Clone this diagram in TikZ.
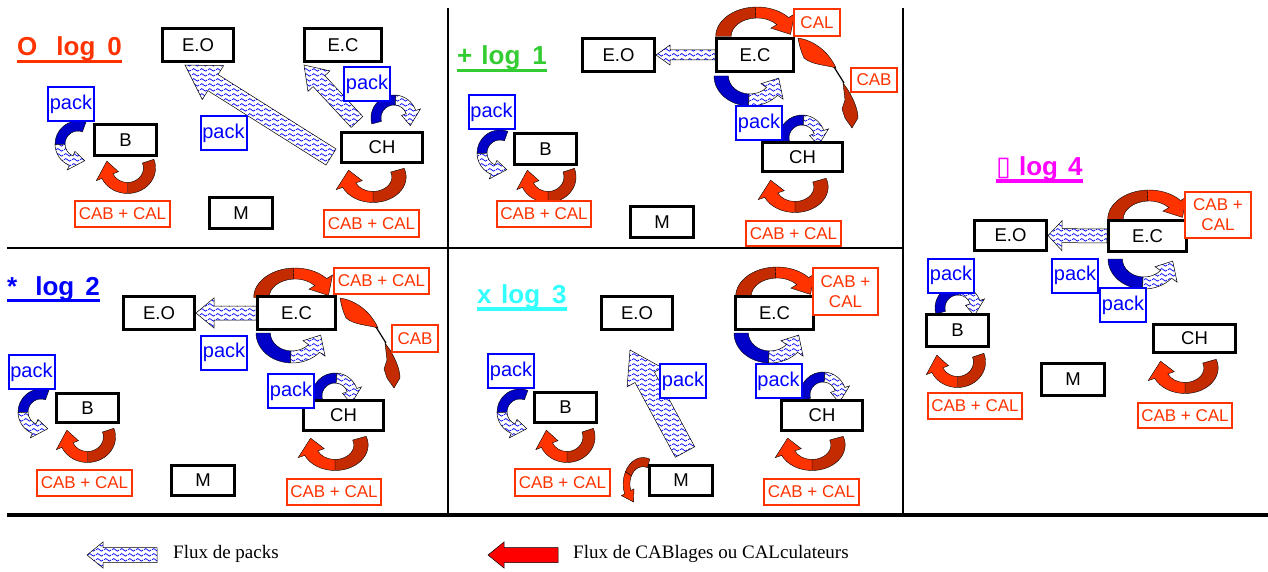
\documentclass[tikz,border=0pt]{standalone}
\usepackage{fontspec}
\setmainfont{Liberation Sans}
\newfontfamily\legendfont{Liberation Serif}
\newfontfamily\symfont{DejaVu Sans}
\usetikzlibrary{calc,patterns}

\definecolor{cabred}{HTML}{FF3300}
\definecolor{cabdark}{HTML}{C42B00}
\definecolor{packblue}{HTML}{0000FF}
\definecolor{loopblue}{HTML}{0000C8}
\definecolor{logzero}{HTML}{FF3300}
\definecolor{logone}{HTML}{33CC33}
\definecolor{logtwo}{HTML}{0000FF}
\definecolor{logthree}{HTML}{33FFFF}
\definecolor{logfour}{HTML}{FF00FF}

\pgfdeclarelayer{back}
\pgfsetlayers{back,main}

% wavy fill used for the flow of packs
\pgfdeclarepatternformonly{waves}{\pgfpointorigin}{\pgfqpoint{8pt}{5pt}}{\pgfqpoint{8pt}{5pt}}{%
  \pgfsetlinewidth{0.8pt}%
  \pgfpathmoveto{\pgfqpoint{0pt}{2.5pt}}%
  \pgfpathcurveto{\pgfqpoint{1.33pt}{4.5pt}}{\pgfqpoint{2.67pt}{4.5pt}}{\pgfqpoint{4pt}{2.5pt}}%
  \pgfpathcurveto{\pgfqpoint{5.33pt}{0.5pt}}{\pgfqpoint{6.67pt}{0.5pt}}{\pgfqpoint{8pt}{2.5pt}}%
  \pgfusepath{stroke}}

% curved band arrow: start angle, end angle, radius, half width, first style, second style
\newcommand\bendarrow[6]{%
  \pgfmathsetmacro\bendM{#1+0.5*(#2-#1)}%
  \pgfmathsetmacro\bendH{#1+0.8*(#2-#1)}%
  \pgfmathsetmacro\bendOut{#3+#4}%
  \pgfmathsetmacro\bendIn{#3-#4}%
  \pgfmathsetmacro\headOut{#3+2*#4}%
  \pgfmathsetmacro\headIn{#3-2*#4}%
  \path[#5] (#1:\bendOut) arc[start angle=#1, end angle=\bendM, radius=\bendOut]
     -- (\bendM:\bendIn) arc[start angle=\bendM, end angle=#1, radius=\bendIn] -- cycle;
  \path[#6] (\bendM:\bendOut) arc[start angle=\bendM, end angle=\bendH, radius=\bendOut]
     -- (\bendH:\headOut) -- (#2:#3) -- (\bendH:\headIn) -- (\bendH:\bendIn)
     arc[start angle=\bendH, end angle=\bendM, radius=\bendIn] -- cycle;
}

% straight block arrow: style, tail, tip, shaft half width, head half width, head length
\newcommand\flatarrow[6]{%
  \coordinate (fa-h) at ($(#3)!#6!(#2)$);
  \path[#1] ($(#2)!#4!90:(#3)$) -- ($(fa-h)!#4!90:(#3)$) -- ($(fa-h)!#5!90:(#3)$)
     -- (#3) -- ($(fa-h)!#5!-90:(#3)$) -- ($(fa-h)!#4!-90:(#3)$)
     -- ($(#2)!#4!-90:(#3)$) -- cycle;
}

\tikzset{
  unitbox/.style={draw=black, line width=3pt, fill=white, inner sep=0pt,
    font=\fontsize{18.5}{18.5}\selectfont},
  sz/.style 2 args={minimum width=#1pt, minimum height=#2pt},
  packtag/.style={draw=packblue, text=packblue, line width=2pt, fill=white, inner sep=0pt,
    minimum width=46pt, minimum height=34pt, font=\fontsize{20}{20}\selectfont},
  cabtag/.style={draw=cabred, text=cabred, line width=2pt, fill=white, inner sep=0pt,
    align=center, font=\fontsize{17}{20}\selectfont},
  title/.style={text=#1, font=\bfseries\fontsize{26}{26}\selectfont, inner sep=0pt, anchor=base west},
  uline/.style={line width=3.5pt, draw=#1},
  frame/.style={line width=2.5pt},
  legendtext/.style={font=\legendfont\fontsize{19}{19}\selectfont, inner sep=0pt, anchor=base west},
  packsolid/.style={fill=loopblue, draw=black, line width=0.4pt},
  packfill/.style={preaction={fill=white}, pattern=waves, pattern color=packblue,
    draw=black, line width=0.5pt},
  cabdarkfill/.style={fill=cabdark, draw=black, line width=0.4pt},
  cablightfill/.style={fill=cabred, draw=black, line width=0.4pt},
  legendred/.style={fill=red, draw=black, line width=0.5pt},
  pics/packloop/.style n args={4}{code={\bendarrow{#1}{#2}{#3}{#4}{packsolid}{packfill}}},
  pics/cabloop/.style n args={4}{code={\bendarrow{#1}{#2}{#3}{#4}{cabdarkfill}{cablightfill}}},
  pics/cabtwist/.style={code={
    \path[cablightfill] (0,0) .. controls (14,2) and (30,12) .. (38,30)
       .. controls (28,27) and (14,27) .. (6,20) .. controls (3,14) and (1,6) .. (0,0) -- cycle;
    \draw[line width=1.2pt] (36,29) -- (46,45);
    \path[cabdarkfill] (45,45) -- (50,52) .. controls (56,62) and (60,72) .. (60,80)
       -- (54,90) -- (47,80) -- (44,71) -- (47,62) -- cycle;
  }},
}

\begin{document}
\begin{tikzpicture}[x=1pt, y=-1pt]
\useasboundingbox (0,0) rectangle (1268,572);

% ---------- frame ----------
\draw[frame] (448,8) -- (448,515);
\draw[frame] (903,8) -- (903,515);
\draw[frame] (7,248) -- (903,248);
\draw[line width=4pt] (7,515) -- (1268,515);

% ---------- log 0 ----------
\node[title=logzero] (t0) at (17,56) {O\hspace{19pt}log\hspace{12pt}0};
\draw[uline=logzero] (t0.south west) -- (t0.south east);
\node[unitbox, sz={71}{33}] (eo0) at (198,45) {E.O};
\node[unitbox, sz={77}{33}] (ec0) at (343,45) {E.C};
\node[unitbox, sz={62}{31}] (b0) at (125.5,140) {B};
\node[unitbox, sz={81}{30}] (ch0) at (382,147.5) {CH};
\node[unitbox, sz={63}{31}] (m0) at (241,213) {M};
\node[packtag] (pk0a) at (71,104) {pack};
\node[packtag] (pk0b) at (223.5,133) {pack};
\node[packtag] (pk0c) at (367,84.5) {pack};
\node[cabtag, sz={95}{26}] (cc0a) at (122.5,214) {CAB + CAL};
\node[cabtag, sz={95}{27}] (cc0b) at (371.5,223.5) {CAB + CAL};

% ---------- log 1 ----------
\node[title=logone] (t1) at (457,65) {+\hspace{9pt}log\hspace{12pt}1};
\draw[uline=logone] (t1.south west) -- (t1.south east);
\node[unitbox, sz={72}{33}] (eo1) at (618.5,55) {E.O};
\node[unitbox, sz={77}{33}] (ec1) at (755,55) {E.C};
\node[unitbox, sz={62}{31}] (b1) at (545.5,149) {B};
\node[unitbox, sz={80}{29}] (ch1) at (802.5,157) {CH};
\node[unitbox, sz={63}{31}] (m1) at (662,222) {M};
\node[packtag] (pk1a) at (491.5,112.5) {pack};
\node[packtag] (pk1b) at (759,123) {pack};
\node[cabtag, sz={46}{27}] (cal1) at (817,22.5) {CAL};
\node[cabtag, sz={46}{24}] (cab1) at (874,80) {CAB};
\node[cabtag, sz={94}{26}] (cc1a) at (544,214) {CAB + CAL};
\node[cabtag, sz={95}{25}] (cc1b) at (793.5,233.5) {CAB + CAL};

% ---------- log 2 ----------
\node[title=logtwo] (t2) at (7,295) {*\hspace{18pt}log\hspace{11pt}2};
\draw[uline=logtwo] (t2.south west) -- (t2.south east);
\node[unitbox, sz={71}{33}] (eo2) at (159,313) {E.O};
\node[unitbox, sz={78}{33}] (ec2) at (296.5,313) {E.C};
\node[unitbox, sz={62}{29}] (b2) at (87.5,408) {B};
\node[unitbox, sz={80}{30}] (ch2) at (343.5,415.5) {CH};
\node[unitbox, sz={63}{30}] (m2) at (203,480.5) {M};
\node[packtag] (pk2a) at (31.5,372) {pack};
\node[packtag] (pk2b) at (224,352.5) {pack};
\node[packtag] (pk2c) at (291,391) {pack};
\node[cabtag, sz={95}{26}] (cc2t) at (381.5,281) {CAB + CAL};
\node[cabtag, sz={46}{27}] (cab2) at (415,338.5) {CAB};
\node[cabtag, sz={95}{26}] (cc2a) at (84.5,483) {CAB + CAL};
\node[cabtag, sz={94}{26}] (cc2b) at (334,492) {CAB + CAL};

% ---------- log 3 ----------
\node[title=logthree] (t3) at (477,303.5) {x\hspace{9.5pt}log\hspace{12pt}3};
\draw[uline=logthree] (t3.south west) -- (t3.south east);
\node[unitbox, sz={71}{33}] (eo3) at (637,313) {E.O};
\node[unitbox, sz={78}{33}] (ec3) at (774.5,313) {E.C};
\node[unitbox, sz={62}{30}] (b3) at (565.5,407.5) {B};
\node[unitbox, sz={81}{30}] (ch3) at (822,415.5) {CH};
\node[unitbox, sz={63}{30}] (m3) at (681,480.5) {M};
\node[cabtag, sz={65}{47}] (cc3t) at (845.5,291.5) {CAB +\\CAL};
\node[packtag] (pk3a) at (511,371) {pack};
\node[packtag] (pk3b) at (683,381) {pack};
\node[packtag] (pk3c) at (778.5,381) {pack};
\node[cabtag, sz={95}{27}] (cc3a) at (562.5,482.5) {CAB + CAL};
\node[cabtag, sz={95}{26}] (cc3b) at (811.5,492) {CAB + CAL};

% ---------- log 4 ----------
\node[title=logfour] (t4) at (996,175.5) {{\symfont\mdseries\fontsize{27}{27}\selectfont ▯}\hspace{8pt}log\hspace{10pt}4};
\draw[uline=logfour] (t4.south west) -- (t4.south east);
\node[unitbox, sz={72}{30}] (eo4) at (1010.5,235.5) {E.O};
\node[unitbox, sz={78}{31}] (ec4) at (1147.5,236) {E.C};
\node[unitbox, sz={62}{32}] (b4) at (957.5,330.5) {B};
\node[unitbox, sz={82}{28}] (ch4) at (1194.5,338.5) {CH};
\node[unitbox, sz={63}{32}] (m4) at (1073,379.5) {M};
\node[cabtag, sz={66}{46}] (cc4t) at (1218,215) {CAB +\\CAL};
\node[packtag] (pk4a) at (951,275.5) {pack};
\node[packtag] (pk4b) at (1075,275.5) {pack};
\node[packtag] (pk4c) at (1123,305) {pack};
\node[cabtag, sz={94}{26}] (cc4a) at (975,406) {CAB + CAL};
\node[cabtag, sz={94}{25}] (cc4b) at (1185,415.5) {CAB + CAL};

% ---------- legend ----------
\coordinate (lgpt) at (157,555);
\coordinate (lgph) at (87,555);
\node[legendtext] (lg1) at (173,558) {Flux de packs};
\coordinate (lgct) at (558,555);
\coordinate (lgch) at (488,555);
\node[legendtext] (lg2) at (573,558) {Flux de CABlages ou CALculateurs};

% ---------- flows, behind the boxes ----------
\begin{pgfonlayer}{back}
  % log 0
  \coordinate (w0t) at (331,157);
  \coordinate (w0h) at (185,65);
  \flatarrow{packfill}{w0t}{w0h}{9.5pt}{20pt}{33pt}
  \coordinate (w0ct) at (357,122);
  \coordinate (w0ch) at (304,65);
  \flatarrow{packfill}{w0ct}{w0ch}{8pt}{15pt}{22pt}
  \pic at (78,144) {packloop={290}{68}{18}{5}};
  \pic at (394,118) {packloop={165}{385}{18}{5}};
  \pic[xscale=1.1] at (127.5,168) {cabloop={-20}{200}{20}{5.5}};
  \pic[xscale=1.3] at (373,177) {cabloop={-20}{200}{20}{5.5}};

  % log 1
  \flatarrow{packfill}{ec1.west}{eo1.east}{5pt}{10pt}{14pt}
  \pic at (500,153) {packloop={290}{68}{18}{5}};
  \pic at (802,138) {packloop={165}{385}{18}{5}};
  \pic[xscale=1.2] at (750,76) {packloop={180}{5}{24}{6}};
  \pic[xscale=1.4] at (757,36.5) {cabloop={180}{355}{24}{5.5}};
  \pic[xscale=1.1] at (548,177) {cabloop={-20}{200}{20}{5.5}};
  \pic[xscale=1.3] at (795,187) {cabloop={-20}{200}{20}{5.5}};
  \pic at (798,38) {cabtwist};

  % log 2
  \flatarrow{packfill}{ec2.west}{eo2.east}{7pt}{15pt}{18pt}
  \pic at (41,412) {packloop={290}{68}{18}{5}};
  \pic at (335,396) {packloop={165}{385}{18}{5}};
  \pic[xscale=1.2] at (292,333) {packloop={180}{5}{24}{6}};
  \pic[xscale=1.4] at (295,297.5) {cabloop={180}{355}{24}{5.5}};
  \pic[xscale=1.1] at (87.5,437) {cabloop={-20}{200}{20}{5.5}};
  \pic[xscale=1.3] at (335,445) {cabloop={-20}{200}{20}{5.5}};
  \pic at (340,298) {cabtwist};

  % log 3
  \coordinate (w3t) at (685,452);
  \coordinate (w3h) at (630,350);
  \flatarrow{packfill}{w3t}{w3h}{11pt}{20pt}{31pt}
  \pic at (520,412) {packloop={290}{68}{18}{5}};
  \pic at (823,395) {packloop={165}{385}{18}{5}};
  \pic[xscale=1.2] at (770,333) {packloop={180}{5}{24}{6}};
  \pic[xscale=1.4] at (777,296.5) {cabloop={180}{355}{24}{5.5}};
  \pic[xscale=1.1] at (567,437) {cabloop={-20}{200}{20}{5.5}};
  \pic[xscale=1.3] at (812,445) {cabloop={-20}{200}{20}{5.5}};
  \pic[xscale=0.75] at (643,484) {cabloop={290}{125}{22}{4.5}};

  % log 4
  \flatarrow{packfill}{ec4.west}{eo4.east}{7pt}{15pt}{14pt}
  \pic at (958,308) {packloop={165}{385}{18}{5}};
  \pic[xscale=1.2] at (1144,259) {packloop={180}{5}{24}{6}};
  \pic[xscale=1.4] at (1149,219.5) {cabloop={180}{355}{24}{5.5}};
  \pic[xscale=1.1] at (957.5,362) {cabloop={-20}{200}{20}{5.5}};
  \pic[xscale=1.3] at (1185,368) {cabloop={-20}{200}{20}{5.5}};

  % legend arrows
  \flatarrow{packfill}{lgpt}{lgph}{7.5pt}{13pt}{16pt}
  \flatarrow{legendred}{lgct}{lgch}{7.5pt}{13pt}{16pt}
\end{pgfonlayer}
\end{tikzpicture}
\end{document}
